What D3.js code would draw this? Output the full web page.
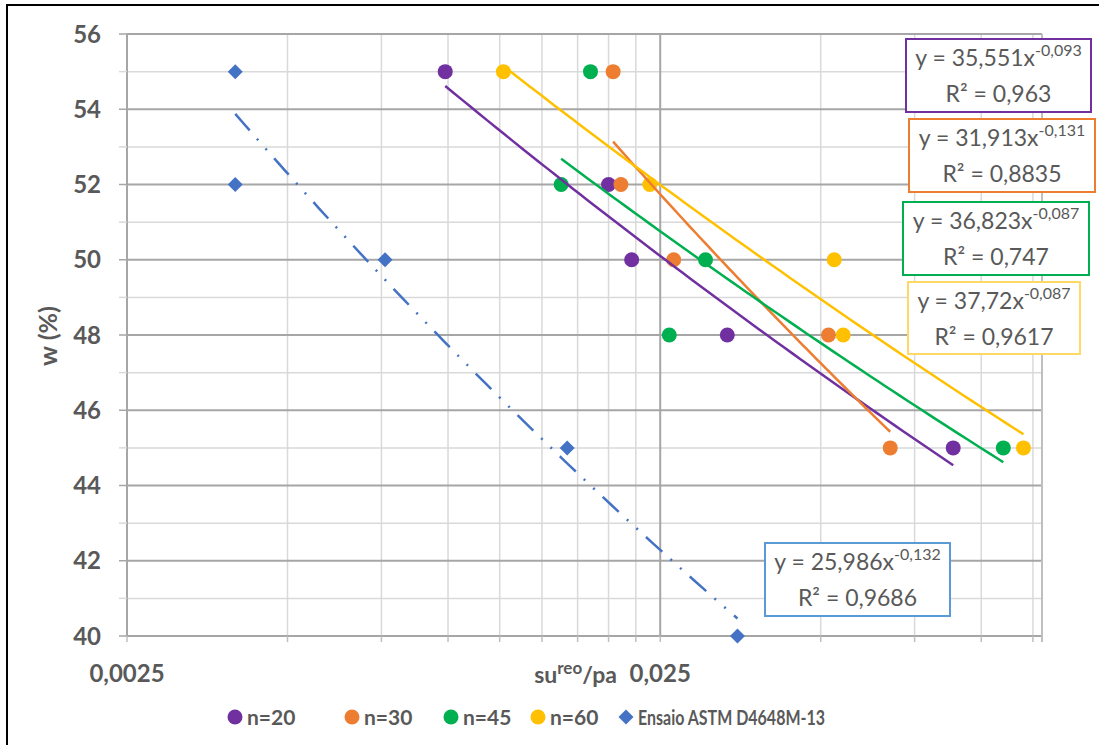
<!DOCTYPE html>
<html>
<head>
<meta charset="utf-8">
<script src="https://cdn.jsdelivr.net/npm/d3@7"></script>
<style>
  html, body { margin: 0; padding: 0; background: #fff; }
  svg { display: block; font-family: Lato, "Open Sans", sans-serif; }
</style>
</head>
<body>
<svg id="chart" width="1099" height="745"></svg>
<script>
// ---------------- DATA ----------------
const seriesNames = ["n=20", "n=30", "n=45", "n=60", "Ensaio ASTM D4648M-13"];
const seriesColors = ["#7030A0", "#ED7D31", "#00B050", "#FFC000", "#4472C4"];
const wValues = [55, 52, 50, 48, 45];
const xN20 = [0.00988, 0.0200, 0.0221, 0.0334, 0.0886];
const xN30 = [0.0204, 0.0211, 0.0265, 0.0517, 0.0675];
const xN45 = [0.0185, 0.0163, 0.0304, 0.0260, 0.1100];
const xN60 = [0.0127, 0.0239, 0.0530, 0.0551, 0.1200];
const xAstm = [0.00399, 0.00399, 0.00762, 0.01673, 0.0349];
const wAstm = [55, 52, 50, 45, 40];
const trendA = [35.551, 31.913, 36.823, 37.72, 25.986];
const trendB = [-0.093, -0.131, -0.087, -0.087, -0.132];
const eqCoef = ["35,551", "31,913", "36,823", "37,72", "25,986"];
const eqExp = ["-0,093", "-0,131", "-0,087", "-0,087", "-0,132"];
const eqR2 = ["0,963", "0,8835", "0,747", "0,9617", "0,9686"];
const yTicks = [40, 41, 42, 43, 44, 45, 46, 47, 48, 49, 50, 51, 52, 53, 54, 55, 56];
const yLabels = [40, 42, 44, 46, 48, 50, 52, 54, 56];
const xMinorTicks = [0.005, 0.0075, 0.01, 0.0125, 0.015, 0.0175, 0.02, 0.0225, 0.05, 0.075, 0.1, 0.125];
const xMajorTicks = [0.0025, 0.025];
const xTickLabels = ["0,0025", "0,025"];

// ---------------- LAYOUT ----------------
const svg = d3.select("#chart");
const L = 127, R = 1042, T = 34, B = 636;
const x = d3.scaleLog().domain([0.0025, 0.13]).range([L, R]);
const y = d3.scaleLinear().domain([40, 56]).range([B, T]);
const txt = "#595959";

// outer border
svg.append("rect").attr("x", 7).attr("y", 5).attr("width", 1100).attr("height", 760)
  .attr("fill", "none").attr("stroke", "#000").attr("stroke-width", 2);

// vertical gridlines
svg.append("g").selectAll("line").data(xMinorTicks).join("line")
  .attr("x1", d => x(d)).attr("x2", d => x(d)).attr("y1", T).attr("y2", B)
  .attr("stroke", "#d9d9d9").attr("stroke-width", 1.5);
// horizontal gridlines
svg.append("g").selectAll("line").data(yTicks).join("line")
  .attr("x1", L).attr("x2", R).attr("y1", d => y(d)).attr("y2", d => y(d))
  .attr("stroke", d => d % 2 === 0 ? "#a6a6a6" : "#d9d9d9")
  .attr("stroke-width", d => d % 2 === 0 ? 2 : 1.5);
// major vertical
svg.append("g").selectAll("line").data(xMajorTicks).join("line")
  .attr("x1", d => x(d)).attr("x2", d => x(d)).attr("y1", T).attr("y2", B)
  .attr("stroke", "#a6a6a6").attr("stroke-width", 2);
// right edge
svg.append("line").attr("x1", R).attr("x2", R).attr("y1", T).attr("y2", B + 6)
  .attr("stroke", "#bfbfbf").attr("stroke-width", 2);

// y tick marks
svg.append("g").selectAll("line").data(yTicks).join("line")
  .attr("x1", L - 8).attr("x2", L).attr("y1", d => y(d)).attr("y2", d => y(d))
  .attr("stroke", d => d % 2 === 0 ? "#a6a6a6" : "#d9d9d9").attr("stroke-width", 1.5);
// x tick marks
svg.append("g").selectAll("line").data(xMinorTicks.concat(xMajorTicks)).join("line")
  .attr("x1", d => x(d)).attr("x2", d => x(d)).attr("y1", B).attr("y2", B + 6)
  .attr("stroke", "#bfbfbf").attr("stroke-width", 1.5);

// y labels
svg.append("g").selectAll("text").data(yLabels).join("text")
  .attr("x", 101).attr("y", d => y(d)).attr("dy", "0.36em")
  .attr("text-anchor", "end").attr("font-size", 24).attr("font-weight", "bold")
  .attr("fill", txt).text(d => d);

// x labels
svg.append("g").selectAll("text").data(xMajorTicks).join("text")
  .attr("x", d => x(d)).attr("y", 682).attr("text-anchor", "middle")
  .attr("font-size", 24).attr("font-weight", "bold").attr("fill", txt)
  .text((d, i) => xTickLabels[i]);

// x axis title
const xt = svg.append("text").attr("x", 617).attr("y", 683).attr("text-anchor", "end")
  .attr("font-size", 23).attr("font-weight", "bold").attr("fill", txt);
xt.append("tspan").text("su");
xt.append("tspan").attr("dy", -9).attr("font-size", 17).text("reo");
xt.append("tspan").attr("dy", 9).text("/pa");

// y axis title
svg.append("text").attr("transform", "translate(57,336) rotate(-90)")
  .attr("text-anchor", "middle").attr("font-size", 25).attr("font-weight", "bold")
  .attr("fill", txt).text("w (%)");

// ---------------- SERIES ----------------
const seriesX = [xN20, xN30, xN45, xN60, xAstm];
const seriesY = [wValues, wValues, wValues, wValues, wAstm];
const line = d3.line().x(d => x(d[0])).y(d => y(d[1]));

const marks = svg.append("g");
const lines = svg.append("g");

seriesX.forEach((xs, si) => {
  const pts = xs.map((v, i) => [v, seriesY[si][i]]);
  const g = marks.append("g");
  if (si < 4) {
    g.selectAll("circle").data(pts).join("circle")
      .attr("cx", d => x(d[0])).attr("cy", d => y(d[1])).attr("r", 7.5)
      .attr("fill", seriesColors[si]);
  } else {
    g.selectAll("path").data(pts).join("path")
      .attr("d", d => { const cx = x(d[0]), cy = y(d[1]), s = 7.5;
        return `M${cx},${cy - s}L${cx + s},${cy}L${cx},${cy + s}L${cx - s},${cy}Z`; })
      .attr("fill", seriesColors[si]);
  }
  // trendline from the stated power-law equation over the data range
  const [x0, x1] = d3.extent(xs);
  const tp = d3.range(0, 61).map(k => {
    const xv = Math.exp(Math.log(x0) + (Math.log(x1) - Math.log(x0)) * k / 60);
    return [xv, trendA[si] * Math.pow(xv, trendB[si])];
  });
  const p = lines.append("path").attr("d", line(tp)).attr("fill", "none")
    .attr("stroke", seriesColors[si]).attr("stroke-width", 2.5);
  if (si === 4) p.attr("stroke-dasharray", "22,11,2,11,2,11");
});

// ---------------- EQUATION BOXES ----------------
const boxes = [
  [906, 39, 185, 73], [909, 119, 186, 73], [903, 202, 186, 73], [908, 282, 172, 72], [765, 543, 185, 73]
];
const boxColors = ["#7030A0", "#ED7D31", "#00B050", "#FFD966", "#5B9BD5"];
boxes.forEach((b, i) => {
  const g = svg.append("g");
  g.append("rect").attr("x", b[0]).attr("y", b[1]).attr("width", b[2]).attr("height", b[3])
    .attr("fill", "#fff").attr("stroke", boxColors[i]).attr("stroke-width", 2);
  const cx = b[0] + b[2] / 2;
  const t1 = g.append("text").attr("x", cx).attr("y", b[1] + 27).attr("text-anchor", "middle")
    .attr("font-size", 23).attr("fill", txt);
  t1.append("tspan").text(`y = ${eqCoef[i]}x`);
  t1.append("tspan").attr("dy", -10).attr("font-size", 16).text(eqExp[i]);
  g.append("text").attr("x", cx).attr("y", b[1] + 63).attr("text-anchor", "middle")
    .attr("font-size", 23).attr("fill", txt).text(`R² = ${eqR2[i]}`);
});

// ---------------- LEGEND ----------------
const legX = [235, 352, 451, 538, 626];
const legY = 717;
seriesNames.forEach((n, i) => {
  const g = svg.append("g");
  if (i < 4) {
    g.append("circle").attr("cx", legX[i]).attr("cy", legY).attr("r", 7.5).attr("fill", seriesColors[i]);
  } else {
    const s = 7.5;
    g.append("path").attr("d", `M${legX[i]},${legY - s}L${legX[i] + s},${legY}L${legX[i]},${legY + s}L${legX[i] - s},${legY}Z`)
      .attr("fill", seriesColors[i]);
  }
  const t = g.append("text").attr("x", legX[i] + 12).attr("y", legY).attr("dy", "0.36em")
    .attr("font-size", 21).attr("font-weight", "bold").attr("fill", txt).text(n);
  if (i === 4) t.attr("textLength", 187).attr("lengthAdjust", "spacingAndGlyphs");
});
</script>
</body>
</html>
